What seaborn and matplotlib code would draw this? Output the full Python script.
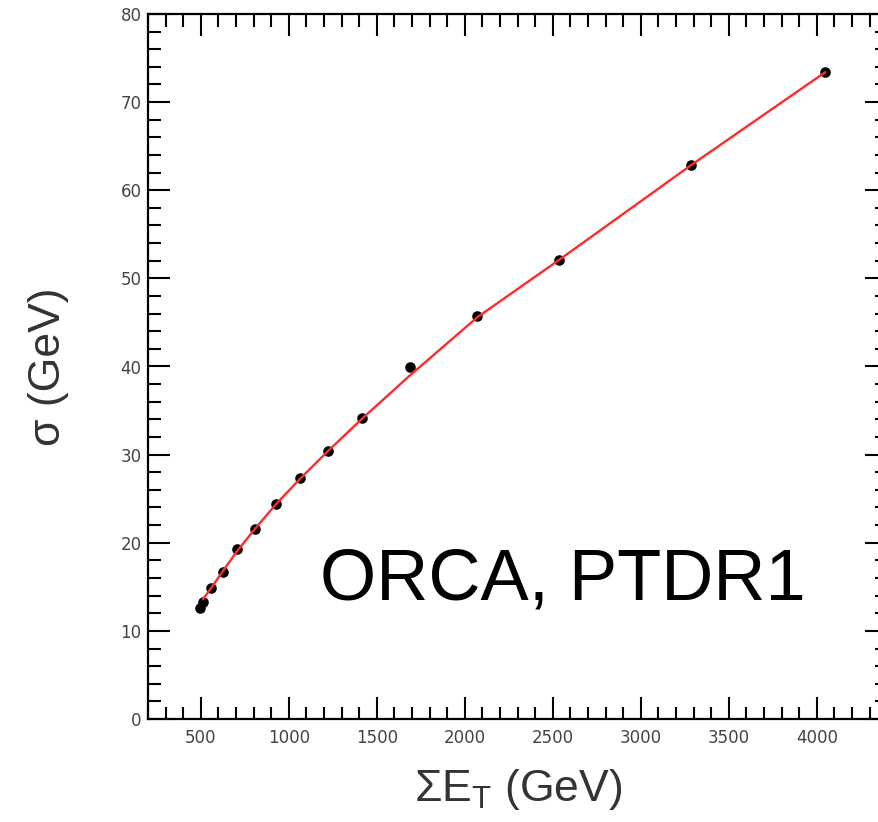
import matplotlib
matplotlib.use("Agg")
import matplotlib.pyplot as plt
from matplotlib.ticker import MultipleLocator
import seaborn as sns
import pandas as pd

# measured points
sum_et = [495, 515, 560, 628, 708, 807, 926, 1066, 1225, 1415, 1689, 2072, 2536, 3286, 4048]
sigma = [12.6, 13.3, 14.9, 16.7, 19.25, 21.55, 24.4, 27.3, 30.45, 34.1, 39.9, 45.7, 52.1, 62.85, 73.4]

# fitted curve
fit_et = [513, 560, 628, 708, 807, 926, 1066, 1225, 1415, 1689, 2072, 2536, 3286, 4048]
fit_sigma = [13.6, 14.9, 16.85, 19.1, 21.55, 24.35, 27.3, 30.45, 34.05, 39.0, 45.6, 52.1, 62.85, 73.4]

x_ticks = [500, 1000, 1500, 2000, 2500, 3000, 3500, 4000]
y_ticks = [0, 10, 20, 30, 40, 50, 60, 70, 80]

pts = pd.DataFrame({"et": sum_et, "sigma": sigma})
fit = pd.DataFrame({"et": fit_et, "sigma": fit_sigma})

sns.set_theme(style="ticks")
plt.rcParams["font.family"] = ["Liberation Sans", "DejaVu Sans"]
plt.rcParams["mathtext.default"] = "regular"

fig = plt.figure(figsize=(8.79, 8.22), dpi=100)
ax = fig.add_axes([148 / 879, 103 / 822, 739.2 / 879, 705 / 822])

sns.scatterplot(data=pts, x="et", y="sigma", ax=ax, color="black", s=58,
                edgecolor="black", linewidth=0, zorder=3)
sns.lineplot(data=fit, x="et", y="sigma", ax=ax, color="#ff2a2a", lw=1.7,
             zorder=4, sort=True, estimator=None)

ax.set_xlim(200, 4400)
ax.set_ylim(0, 80)
ax.set_xticks(x_ticks)
ax.set_yticks(y_ticks)
ax.xaxis.set_minor_locator(MultipleLocator(100))
ax.yaxis.set_minor_locator(MultipleLocator(2))

for s in ax.spines.values():
    s.set_linewidth(1.6)
    s.set_color("black")
    s.set_visible(True)

ax.tick_params(which="both", direction="in", top=True, right=True, width=1.5,
               color="black")
ax.tick_params(which="major", length=16)
ax.tick_params(which="minor", length=9)
ax.tick_params(axis="x", which="major", pad=7)
ax.tick_params(axis="y", which="major", pad=4.5)
for lab in ax.get_xticklabels() + ax.get_yticklabels():
    lab.set_fontfamily("DejaVu Sans")
    lab.set_fontsize(12)
    lab.set_color("#444444")

ax.set_xlabel("ΣE$_T$ (GeV)", fontsize=32, color="#333333")
ax.set_ylabel("σ (GeV)", fontsize=32, color="#333333")
ax.xaxis.set_label_coords(0.5, -0.068)
ax.yaxis.set_label_coords(-0.107, 0.5)

ax.text(0.2326, 0.170, "ORCA, PTDR1", transform=ax.transAxes, fontsize=52,
        color="black", ha="left", va="baseline")

fig.savefig("out.png", dpi=100)
